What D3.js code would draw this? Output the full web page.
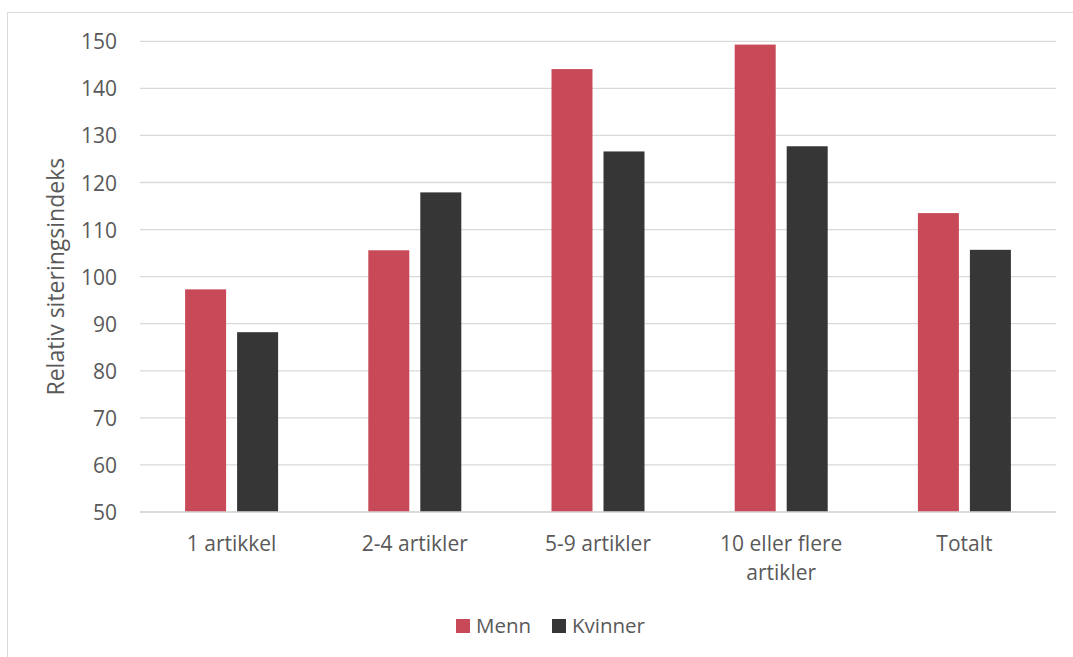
<!DOCTYPE html>
<html>
<head>
<meta charset="utf-8">
<script src="https://cdn.jsdelivr.net/npm/d3@7"></script>
<style>
  html, body { margin: 0; padding: 0; background: #fff; }
  svg { display: block; }
  text { font-family: "Open Sans", "Liberation Sans", sans-serif; fill: #595959; }
</style>
</head>
<body>
<svg id="chart" width="1073" height="657"></svg>
<script>
// Relative citation index by number of articles, men vs women
const categories = ["1 artikkel", "2-4 artikler", "5-9 artikler", "10 eller flere artikler", "Totalt"];
const categoryLines = [["1 artikkel"], ["2-4 artikler"], ["5-9 artikler"], ["10 eller flere", "artikler"], ["Totalt"]];
const seriesNames = ["Menn", "Kvinner"];
const menn = [97.3, 105.6, 144.1, 149.3, 113.5];
const kvinner = [88.2, 117.9, 126.6, 127.7, 105.7];
const yTicks = [50, 60, 70, 80, 90, 100, 110, 120, 130, 140, 150];
const colors = ["#c84a59", "#363636"];

const svg = d3.select("#chart");
const plot = { left: 140, right: 1056, top: 41.3, bottom: 512 };

// outer frame
svg.append("rect")
  .attr("x", 7.5).attr("y", 12.5)
  .attr("width", 1100).attr("height", 700)
  .attr("fill", "none").attr("stroke", "#d9d9d9").attr("stroke-width", 1);

const x = d3.scaleBand().domain(categories).range([plot.left, plot.right]).padding(0);
const y = d3.scaleLinear().domain([50, 150]).range([plot.bottom, plot.top]);

// gridlines
svg.append("g").selectAll("line").data(yTicks).join("line")
  .attr("x1", plot.left).attr("x2", plot.right)
  .attr("y1", d => y(d)).attr("y2", d => y(d))
  .attr("stroke", "#d9d9d9").attr("stroke-width", 1.3);

// y tick labels
svg.append("g").selectAll("text").data(yTicks).join("text")
  .attr("x", 117).attr("y", d => y(d))
  .attr("text-anchor", "end").attr("dominant-baseline", "central")
  .attr("font-size", 21)
  .text(d => d);

// y axis title
svg.append("text")
  .attr("transform", `translate(64, ${(plot.top + plot.bottom) / 2}) rotate(-90)`)
  .attr("text-anchor", "middle")
  .attr("font-size", 23)
  .text("Relativ siteringsindeks");

// bars
const barW = 41, gap = 11;
const series = [menn, kvinner];
series.forEach((vals, si) => {
  svg.append("g").selectAll("rect").data(vals).join("rect")
    .attr("x", (d, i) => x(categories[i]) + x.bandwidth() / 2 - (barW + gap / 2) + si * (barW + gap))
    .attr("width", barW)
    .attr("y", d => y(d))
    .attr("height", d => y(50) - y(d))
    .attr("fill", colors[si]);
});

// redraw baseline over bars
svg.append("line")
  .attr("x1", plot.left).attr("x2", plot.right)
  .attr("y1", y(50)).attr("y2", y(50))
  .attr("stroke", "#d9d9d9").attr("stroke-width", 1.3);

// category labels
const catG = svg.append("g");
categories.forEach((c, i) => {
  const t = catG.append("text")
    .attr("x", x(c) + x.bandwidth() / 2)
    .attr("y", 551)
    .attr("text-anchor", "middle")
    .attr("font-size", 21);
  categoryLines[i].forEach((ln, li) => {
    t.append("tspan").attr("x", x(c) + x.bandwidth() / 2).attr("dy", li === 0 ? 0 : 28.5).text(ln);
  });
});

// legend
const legendX = [456, 552];
seriesNames.forEach((n, i) => {
  svg.append("rect").attr("x", legendX[i]).attr("y", 619).attr("width", 14).attr("height", 14).attr("fill", colors[i]);
  svg.append("text").attr("x", legendX[i] + 20).attr("y", 633).attr("font-size", 20.5).text(n);
});
</script>
</body>
</html>
